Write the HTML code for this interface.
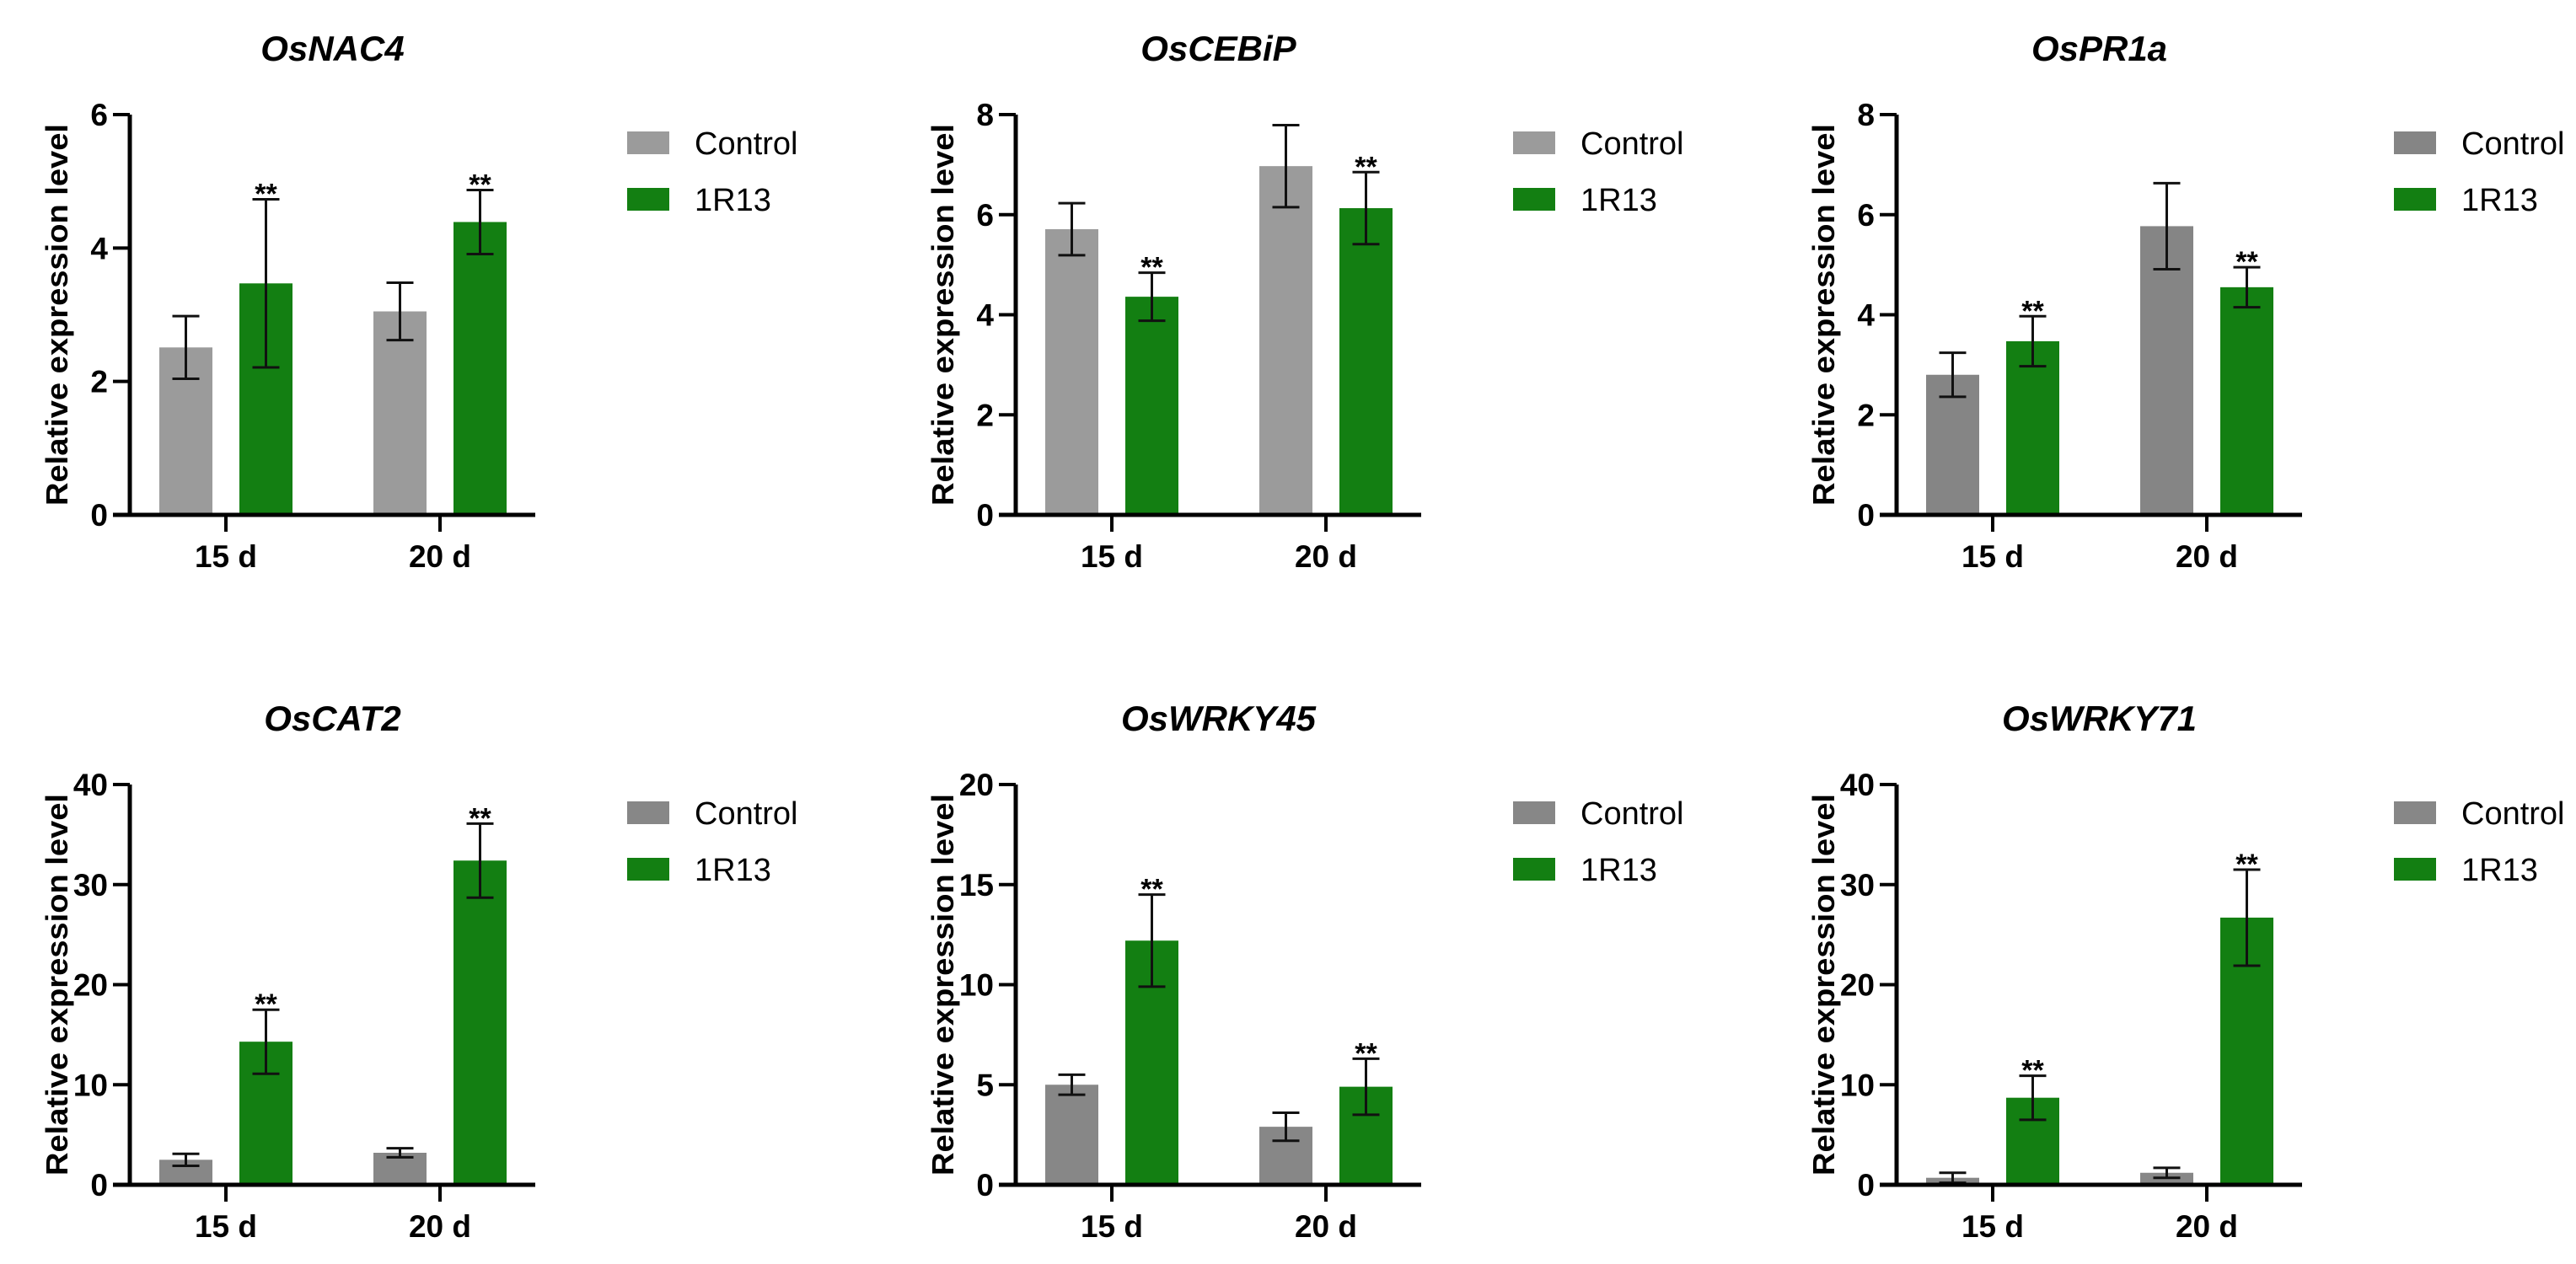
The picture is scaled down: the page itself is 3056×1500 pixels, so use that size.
<!DOCTYPE html>
<html><head><meta charset="utf-8"><style>
html,body{margin:0;padding:0;background:#fff;}
svg{display:block;font-family:"Liberation Sans",Arial,sans-serif;}
</style></head><body>
<svg id="fig" width="3056" height="1500" viewBox="0 0 3056 1500"></svg>
<script>
const titles = ["OsNAC4","OsCEBiP","OsPR1a","OsCAT2","OsWRKY45","OsWRKY71"];
const categories = ["15 d","20 d"];
const yMaxes = [6,8,8,40,20,40];
const yTicks = [[0,2,4,6],[0,2,4,6,8],[0,2,4,6,8],[0,10,20,30,40],[0,5,10,15,20],[0,10,20,30,40]];
const controlMeans = [[2.51,3.05],[5.71,6.97],[2.8,5.77],[2.5,3.2],[5.0,2.9],[0.7,1.2]];
const controlErrs  = [[0.47,0.43],[0.52,0.82],[0.44,0.86],[0.6,0.45],[0.5,0.7],[0.5,0.5]];
const treatMeans   = [[3.47,4.39],[4.36,6.13],[3.47,4.55],[14.3,32.4],[12.2,4.9],[8.7,26.7]];
const treatErrs    = [[1.26,0.48],[0.48,0.72],[0.5,0.4],[3.2,3.7],[2.3,1.4],[2.2,4.8]];
const seriesNames = ["Control","1R13"];
const controlColors = ["#9b9b9b","#9b9b9b","#858585","#878787","#878787","#878787"];
const green = "#137f12";

const NS="http://www.w3.org/2000/svg";
const svg=document.getElementById('fig');
function mk(tag,attrs,parent){const e=document.createElementNS(NS,tag);for(const k in attrs)e.setAttribute(k,attrs[k]);(parent||svg).appendChild(e);return e;}

const axisXs=[154,1205,2250];
const tops=[136,931];
const plotH=475, plotW=481;

for(let p=0;p<6;p++){
  const ax=axisXs[p%3], top=tops[Math.floor(p/3)], base=top+plotH;
  const g=mk('g',{});
  
  
  const y=v=>base-v/yMaxes[p]*plotH;
  const xTick=i=>ax+114+i*254;
  // title
  const t=mk('text',{x:ax+plotW/2,y:top-64,'text-anchor':'middle','font-size':42,'font-weight':'bold','font-style':'italic'},g);
  t.textContent=titles[p];
  
  
  // y title
  const yt=mk('text',{x:0,y:0,'text-anchor':'middle','font-size':36,'font-weight':'bold',transform:`translate(${ax-74},${top+plotH/2}) rotate(-90)`,textLength:453,lengthAdjust:'spacingAndGlyphs'},g);
  yt.textContent="Relative expression level";
  
  
  // bars
  for(let i=0;i<2;i++){
    const series=[[controlMeans[p][i],controlErrs[p][i],controlColors[p],-47.5,false],[treatMeans[p][i],treatErrs[p][i],green,47.5,true]];
    series.forEach((s,si)=>{
      const cx=xTick(i)+s[3];
      const r=mk('rect',{x:cx-31.5,y:y(s[0]),width:63,height:base-y(s[0]),fill:s[2]},g);
      
      
      const hi=y(s[0]+s[1]), lo=y(Math.max(0,s[0]-s[1]));
      const eb=mk('path',{d:`M${cx},${hi}V${lo}M${cx-16},${hi}H${cx+16}M${cx-16},${lo}H${cx+16}`,stroke:'#111','stroke-width':3,fill:'none'},g);
      
      
      if(s[4]){
        const st=mk('text',{x:cx,y:hi+5,'text-anchor':'middle','font-size':34,'font-weight':'bold'},g);
        st.textContent="**";
        
        
      }
    });
    // x tick + label
    mk('line',{x1:xTick(i),x2:xTick(i),y1:base,y2:base+20,stroke:'#000','stroke-width':4},g);
    const xl=mk('text',{x:xTick(i),y:base+62,'text-anchor':'middle','font-size':37,'font-weight':'bold'},g);
    xl.textContent=categories[i];
    
    
  }
  // axes
  const axes=mk('path',{d:`M${ax},${top}V${base}M${ax-20},${base}H${ax+plotW}`,stroke:'#000','stroke-width':5,fill:'none'},g);
  
  
  yTicks[p].forEach(v=>{
    mk('line',{x1:ax-20,x2:ax,y1:y(v),y2:y(v),stroke:'#000','stroke-width':4},g);
    const tl=mk('text',{x:ax-26,y:y(v)+13,'text-anchor':'end','font-size':37,'font-weight':'bold'},g);
    tl.textContent=v;
    
    
  });
  // legend
  seriesNames.forEach((n,k)=>{
    const ly=top+20+k*67;
    const sw=mk('rect',{x:ax+590,y:ly,width:50,height:27,fill:k?green:controlColors[p]},g);
    
    
    const lt=mk('text',{x:ax+670,y:ly+27,'font-size':38},g);
    lt.textContent=n;
    
    
  });
}
</script>
</body></html>
